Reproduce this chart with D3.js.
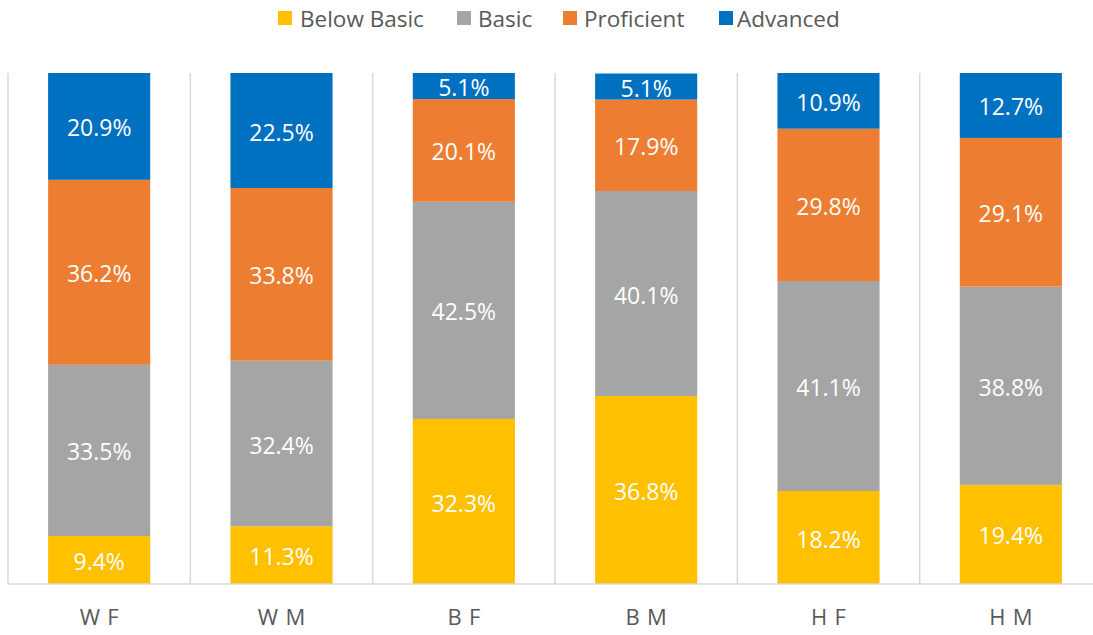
<!DOCTYPE html>
<html><head><meta charset="utf-8">
<script src="https://cdn.jsdelivr.net/npm/d3@7"></script>
<style>body{margin:0;background:#fff;} svg{display:block;font-family:"Open Sans","Liberation Sans",sans-serif;}</style>
</head><body>
<svg id="c" width="1093" height="635"></svg>
<script>
const categories = ["W F","W M","B F","B M","H F","H M"];
const seriesNames = ["Below Basic","Basic","Proficient","Advanced"];
const belowBasic = [9.4, 11.3, 32.3, 36.8, 18.2, 19.4];
const basic      = [33.5, 32.4, 42.5, 40.1, 41.1, 38.8];
const proficient = [36.2, 33.8, 20.1, 17.9, 29.8, 29.1];
const advanced   = [20.9, 22.5, 5.1, 5.1, 10.9, 12.7];
const colors = ["#FFC000","#A5A5A5","#ED7D31","#0070C0"];

(function(){
const rows = categories.map((c,i)=>({cat:c, "Below Basic":belowBasic[i], "Basic":basic[i], "Proficient":proficient[i], "Advanced":advanced[i]}));
const svg = d3.select("#c");
const pL=8, pR=1102, pT=73, pB=584;
const x = d3.scaleBand().domain(categories).range([pL,pR]).paddingInner(0.44).paddingOuter(0.22);
const xb = d3.scaleBand().domain(categories).range([pL,pR]);
const y = d3.scaleLinear().domain([0,100]).range([pB,pT]);

svg.append("g").selectAll("line").data(categories.concat(["end"])).join("line")
  .attr("x1",(d,i)=>pL+i*xb.bandwidth()).attr("x2",(d,i)=>pL+i*xb.bandwidth())
  .attr("y1",pT).attr("y2",pB).attr("stroke","#D9D9D9").attr("stroke-width",1.5);

const stack = d3.stack().keys(seriesNames)(rows);
const g = svg.append("g");
stack.forEach((s,si)=>{
  const sg = g.append("g").attr("fill",colors[si]);
  sg.selectAll("rect").data(s).join("rect")
    .attr("x",d=>x(d.data.cat)).attr("width",x.bandwidth())
    .attr("y",d=>y(d[1])).attr("height",d=>y(d[0])-y(d[1]));
});
stack.forEach((s,si)=>{
  g.append("g").selectAll("text").data(s).join("text")
    .attr("x",d=>x(d.data.cat)+x.bandwidth()/2)
    .attr("y",d=>(y(d[0])+y(d[1]))/2+2)
    .attr("dy","0.35em").attr("text-anchor","middle")
    .attr("fill","#fff").attr("font-size",23)
    .text(d=>d.data[s.key].toFixed(1)+"%");
});

const ax = svg.append("g").attr("transform",`translate(0,${pB})`).call(d3.axisBottom(x).tickSize(0).tickPadding(25));
ax.select(".domain").remove();
ax.append("line").attr("x1",pL).attr("x2",pR).attr("stroke","#D9D9D9").attr("stroke-width",1.5);
ax.selectAll("text").attr("font-size",22).attr("letter-spacing","0.8px").attr("dx","0.4px").attr("fill","#595959").attr("font-family","'Open Sans','Liberation Sans',sans-serif").attr("dy","0.71em");

const legX = [278, 457, 563, 719];
const legTX = [300, 478, 584, 737];
const leg = svg.append("g");
seriesNames.forEach((n,i)=>{
  leg.append("rect").attr("x",legX[i]).attr("y",11).attr("width",14).attr("height",14).attr("fill",colors[i]);
  leg.append("text").attr("x",legTX[i]).attr("y",19).attr("dy","0.35em").attr("font-size",22.5).attr("fill","#595959").text(n);
});
})();
</script>
</body></html>
